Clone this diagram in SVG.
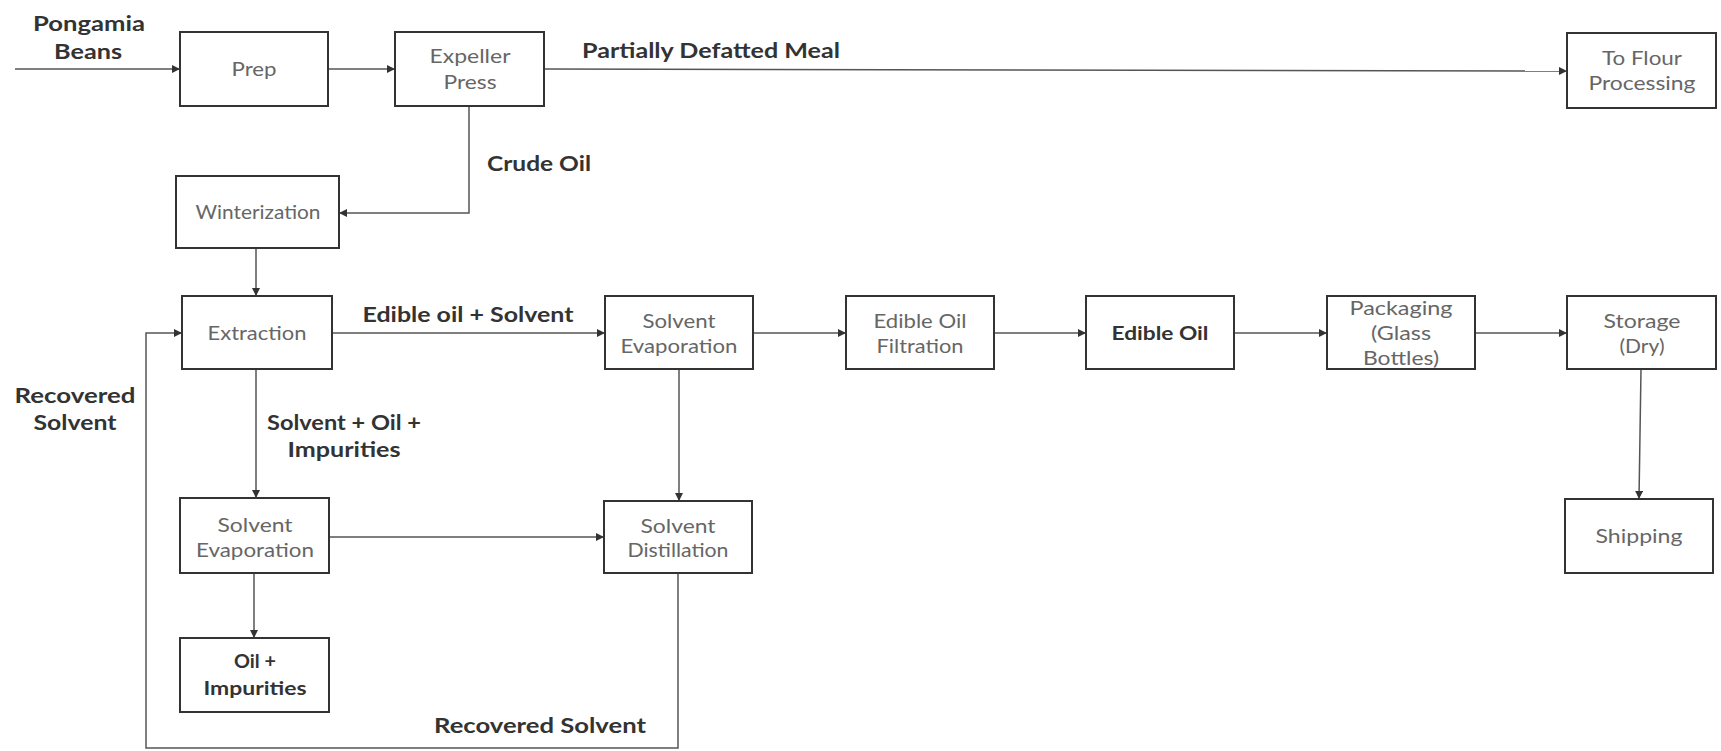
<svg xmlns="http://www.w3.org/2000/svg" width="1721" height="751" viewBox="0 0 1721 751">
<style>
.box{fill:#fff;stroke:#333;stroke-width:2}
.t{font-family:Lato,"Liberation Sans",sans-serif;font-size:19px;fill:#666;text-anchor:middle}
.tb{font-family:Lato,"Liberation Sans",sans-serif;font-size:19px;font-weight:bold;fill:#333;text-anchor:middle}
.lb{font-family:Lato,"Liberation Sans",sans-serif;font-size:21px;font-weight:bold;fill:#333;text-anchor:middle}
.c{fill:none;stroke:#555;stroke-width:1.5}
</style>
<defs>
<marker id="ar" viewBox="0 0 10 10" refX="10" refY="5" markerWidth="8" markerHeight="8" markerUnits="userSpaceOnUse" orient="auto">
<path d="M0,0 L10,5 L0,10 z" fill="#333"/>
</marker>
</defs>
<rect width="1721" height="751" fill="#fff"/>
<g id="connectors">
<path class="c" d="M15,69 H180" marker-end="url(#ar)"/>
<path class="c" d="M328,69 H395" marker-end="url(#ar)"/>
<path class="c" d="M544,69 L1567,71" marker-end="url(#ar)"/>
<path class="c" d="M469,106 V213 H339" marker-end="url(#ar)"/>
<path class="c" d="M256,248 V296" marker-end="url(#ar)"/>
<path class="c" d="M332,333 H605" marker-end="url(#ar)"/>
<path class="c" d="M753,333 H846" marker-end="url(#ar)"/>
<path class="c" d="M994,333 H1086" marker-end="url(#ar)"/>
<path class="c" d="M1234,333 H1327" marker-end="url(#ar)"/>
<path class="c" d="M1475,333 H1567" marker-end="url(#ar)"/>
<path class="c" d="M1641,369 L1639,499" marker-end="url(#ar)"/>
<path class="c" d="M256,369 V498" marker-end="url(#ar)"/>
<path class="c" d="M329,537 H604" marker-end="url(#ar)"/>
<path class="c" d="M679,369 V501" marker-end="url(#ar)"/>
<path class="c" d="M254,573 V638" marker-end="url(#ar)"/>
<path class="c" d="M678,573 V748 H146 V333 H182" marker-end="url(#ar)"/>
</g>
<g id="labels">
<text class="lb" x="89" y="31" textLength="112" lengthAdjust="spacingAndGlyphs">Pongamia</text>
<text class="lb" x="88" y="59" textLength="68" lengthAdjust="spacingAndGlyphs">Beans</text>
<text class="lb" x="711" y="58" textLength="258" lengthAdjust="spacingAndGlyphs">Partially Defatted Meal</text>
<text class="lb" x="539" y="171" textLength="104" lengthAdjust="spacingAndGlyphs">Crude Oil</text>
<text class="lb" x="468" y="322" textLength="211" lengthAdjust="spacingAndGlyphs">Edible oil + Solvent</text>
<text class="lb" x="75" y="403" textLength="121" lengthAdjust="spacingAndGlyphs">Recovered</text>
<text class="lb" x="75" y="430" textLength="83" lengthAdjust="spacingAndGlyphs">Solvent</text>
<text class="lb" x="344" y="430" textLength="154" lengthAdjust="spacingAndGlyphs">Solvent + Oil +</text>
<text class="lb" x="344" y="457" textLength="113" lengthAdjust="spacingAndGlyphs">Impurities</text>
<text class="lb" x="540" y="733" textLength="212" lengthAdjust="spacingAndGlyphs">Recovered Solvent</text>
</g>
<g id="prep"><rect class="box" x="180" y="32" width="148" height="74"/><text class="t" x="254" y="76" textLength="45" lengthAdjust="spacingAndGlyphs">Prep</text></g>
<g id="expeller"><rect class="box" x="395" y="32" width="149" height="74"/><text class="t" x="470" y="63" textLength="81" lengthAdjust="spacingAndGlyphs">Expeller</text><text class="t" x="470" y="89" textLength="53" lengthAdjust="spacingAndGlyphs">Press</text></g>
<g id="flour"><rect class="box" x="1567" y="33" width="149" height="75"/><text class="t" x="1642" y="65" textLength="80" lengthAdjust="spacingAndGlyphs">To Flour</text><text class="t" x="1642" y="90" textLength="107" lengthAdjust="spacingAndGlyphs">Processing</text></g>
<g id="winterization"><rect class="box" x="176" y="176" width="163" height="72"/><text class="t" x="258" y="219" textLength="125" lengthAdjust="spacingAndGlyphs">Winterization</text></g>
<g id="extraction"><rect class="box" x="182" y="296" width="150" height="73"/><text class="t" x="257" y="340" textLength="99" lengthAdjust="spacingAndGlyphs">Extraction</text></g>
<g id="evap1"><rect class="box" x="605" y="296" width="148" height="73"/><text class="t" x="679" y="328" textLength="73" lengthAdjust="spacingAndGlyphs">Solvent</text><text class="t" x="679" y="353" textLength="117" lengthAdjust="spacingAndGlyphs">Evaporation</text></g>
<g id="filtration"><rect class="box" x="846" y="296" width="148" height="73"/><text class="t" x="920" y="328" textLength="93" lengthAdjust="spacingAndGlyphs">Edible Oil</text><text class="t" x="920" y="353" textLength="87" lengthAdjust="spacingAndGlyphs">Filtration</text></g>
<g id="edibleoil"><rect class="box" x="1086" y="296" width="148" height="73"/><text class="tb" x="1160" y="340" textLength="97" lengthAdjust="spacingAndGlyphs">Edible Oil</text></g>
<g id="packaging"><rect class="box" x="1327" y="296" width="148" height="73"/><text class="t" x="1401" y="315" textLength="103" lengthAdjust="spacingAndGlyphs">Packaging</text><text class="t" x="1401" y="340" textLength="60" lengthAdjust="spacingAndGlyphs">(Glass</text><text class="t" x="1401" y="365" textLength="76" lengthAdjust="spacingAndGlyphs">Bottles)</text></g>
<g id="storage"><rect class="box" x="1567" y="296" width="149" height="73"/><text class="t" x="1642" y="328" textLength="77" lengthAdjust="spacingAndGlyphs">Storage</text><text class="t" x="1642" y="353" textLength="45" lengthAdjust="spacingAndGlyphs">(Dry)</text></g>
<g id="shipping"><rect class="box" x="1565" y="499" width="148" height="74"/><text class="t" x="1639" y="543" textLength="87" lengthAdjust="spacingAndGlyphs">Shipping</text></g>
<g id="evap2"><rect class="box" x="180" y="498" width="149" height="75"/><text class="t" x="255" y="532" textLength="75" lengthAdjust="spacingAndGlyphs">Solvent</text><text class="t" x="255" y="557" textLength="118" lengthAdjust="spacingAndGlyphs">Evaporation</text></g>
<g id="distillation"><rect class="box" x="604" y="501" width="148" height="72"/><text class="t" x="678" y="533" textLength="75" lengthAdjust="spacingAndGlyphs">Solvent</text><text class="t" x="678" y="557" textLength="101" lengthAdjust="spacingAndGlyphs">Distillation</text></g>
<g id="oilimp"><rect class="box" x="180" y="638" width="149" height="74"/><text class="tb" x="255" y="668" textLength="42" lengthAdjust="spacingAndGlyphs">Oil +</text><text class="tb" x="255" y="695" textLength="103" lengthAdjust="spacingAndGlyphs">Impurities</text></g>
</svg>
